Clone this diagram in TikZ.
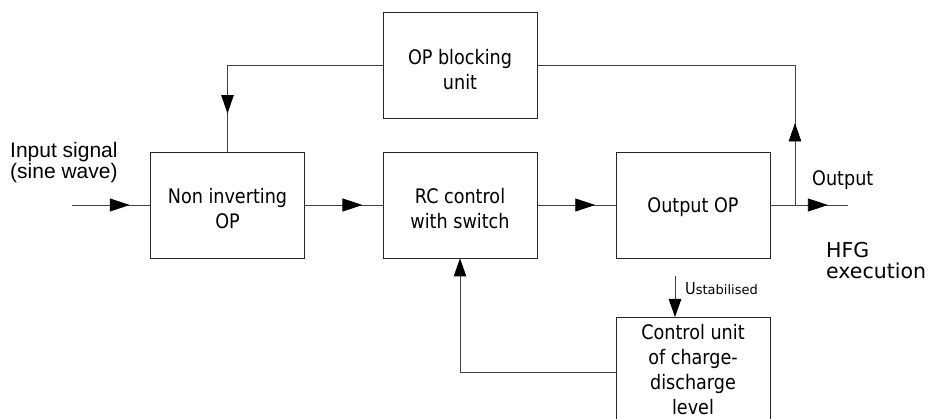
\documentclass[tikz,border=0pt]{standalone}
\usepackage{fontspec}
\usetikzlibrary{arrows.meta,decorations.markings,calc}
\newfontfamily\boxfont{DejaVu Sans}[FakeStretch=0.88]
\newfontfamily\arialf{Liberation Sans}
\newfontfamily\dvs{DejaVu Sans}
\newcommand\sB{\rule[-4.3pt]{0pt}{24pt}}
\newcommand\sA{\rule[-1.7pt]{0pt}{24pt}}
\begin{document}
\begin{tikzpicture}[x=1pt,y=-1pt,
  blk/.style={draw=black!85, line width=0.9pt, minimum width=154pt, minimum height=106pt,
    align=center, inner sep=0pt, font=\boxfont\fontsize{20}{25}\selectfont},
  wire/.style={draw=black!75, line width=0.9pt},
  tipa/.style={-{Triangle[length=18pt,width=12.5pt,color=black]}},
  midarr/.style={postaction={decorate}, decoration={markings,
    mark=at position #1 with {\arrow{Triangle[length=20pt,width=13pt,color=black]}}}},
  midarrv/.style={postaction={decorate}, decoration={markings,
    mark=at position #1 with {\arrow{Triangle[length=18.5pt,width=12.5pt,color=black]}}}},
  lbl/.style={inner sep=0pt}
]
\fill[white] (0,0) rectangle (932,419);
\useasboundingbox (0,0) rectangle (932,419);

\node[blk] (opb) at (460,65.5) {\sA OP blocking\\unit};
\node[blk] (nin) at (227.5,205) {\sA Non inverting\\OP};
\node[blk] (rc) at (460,205) {\sA RC control\\with switch};
\node[blk] (out) at (693,205) {\sB Output OP};
\node[blk, minimum height=110pt, anchor=north] (ctl) at (693,317)
  {\sB Control unit\\of charge-\\discharge\\level\rule[-10pt]{0pt}{1pt}};

\coordinate (inp) at (72,205);
\coordinate (br) at (795,205);
\coordinate (oute) at (848,205);
\coordinate (us) at (675,276);

\draw[wire, midarr=0.74] (inp) -- (nin.west);
\draw[wire, midarr=0.74] (nin.east) -- (rc.west);
\draw[wire, midarr=0.74] (rc.east) -- (out.west);
\draw[wire, midarr=0.74] (out.east) -- (oute);
\draw[wire, midarrv=82pt] (br) |- (opb.east);
\draw[wire, midarrv=-38pt] (opb.west) -| (nin.north);
\draw[wire, tipa] (ctl.west) -| (rc.south);
\draw[wire, tipa] (us) -- (us |- ctl.north);

\node[lbl, anchor=north west, align=left, font=\arialf\fontsize{21}{21}\selectfont] (inlab) at (10,142) {Input signal\\(sine wave)};
\node[lbl, anchor=base west, font=\boxfont\fontsize{20}{25}\selectfont] (outlab) at (812,186) {Output};
\node[lbl, anchor=north west, align=left, font=\dvs\fontsize{20.5}{21}\selectfont] (hfg) at (826,242) {HFG\\execution};
\node[lbl, anchor=base west] (ulab) at (685,294.5) {\boxfont\fontsize{16.5}{18}\selectfont U\dvs\fontsize{13}{15}\selectfont stabilised};
\end{tikzpicture}
\end{document}
